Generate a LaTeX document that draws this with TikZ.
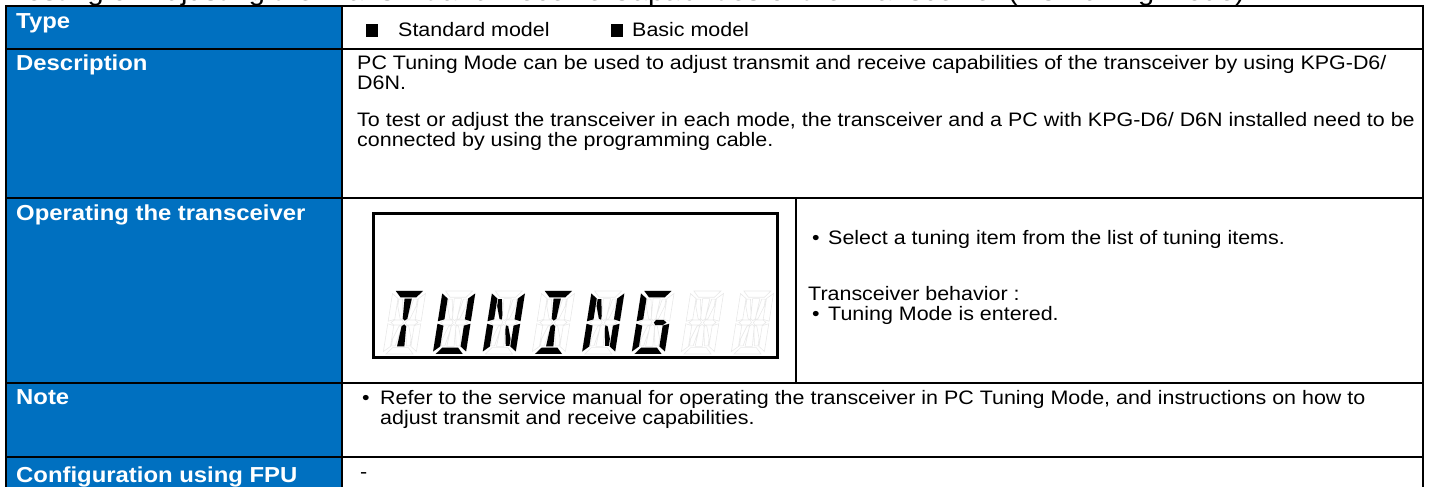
\documentclass[tikz,border=0pt]{standalone}
\usepackage{fontspec}
\setmainfont{Liberation Sans}
\newfontfamily\bodyf[FakeStretch=1.1]{Liberation Sans}
\definecolor{hdrblue}{HTML}{0070C0}
% 14-segment display segments in a 10 x 20 unit cell
\def\sgA{(0.9,20) -- (9.1,20) -- (7.4,18) -- (2.6,18) -- cycle}
\def\sgD{(0.9,0) -- (9.1,0) -- (7.4,2) -- (2.6,2) -- cycle}
\def\sgF{(0,19.2) -- (1.9,17.6) -- (1.9,11) -- (0,10.4) -- cycle}
\def\sgE{(0,9.6) -- (1.9,9) -- (1.9,2.4) -- (0,0.8) -- cycle}
\def\sgB{(10,19.2) -- (8.1,17.6) -- (8.1,11) -- (10,10.4) -- cycle}
\def\sgC{(10,9.6) -- (8.1,9) -- (8.1,2.4) -- (10,0.8) -- cycle}
\def\sgGa{(0.9,10) -- (1.9,10.8) -- (4.2,10.8) -- (4.7,10) -- (4.2,9.2) -- (1.9,9.2) -- cycle}
\def\sgGb{(5.3,10) -- (5.8,10.8) -- (8.1,10.8) -- (9.1,10) -- (8.1,9.2) -- (5.8,9.2) -- cycle}
\def\sgI{(3.9,17.6) -- (6.1,17.6) -- (5.7,11.2) -- (5,10.6) -- (4.3,11.2) -- cycle}
\def\sgL{(4.3,8.8) -- (5,9.4) -- (5.7,8.8) -- (6.1,2.4) -- (3.9,2.4) -- cycle}
\def\sgH{(2.2,17.4) -- (3.3,17.4) -- (4.2,12.3) -- (4.2,10.9) -- (3.5,11.2) -- (2.2,15.2) -- cycle}
\def\sgJ{(7.8,17.4) -- (6.7,17.4) -- (5.8,12.3) -- (5.8,10.9) -- (6.5,11.2) -- (7.8,15.2) -- cycle}
\def\sgK{(2.2,2.6) -- (3.3,2.6) -- (4.2,7.7) -- (4.2,9.1) -- (3.5,8.8) -- (2.2,4.8) -- cycle}
\def\sgM{(7.8,2.6) -- (6.7,2.6) -- (5.8,7.7) -- (5.8,9.1) -- (6.5,8.8) -- (7.8,4.8) -- cycle}
\newcommand\LcdChar[2]{%
  \begin{scope}[shift={(#1,133)},xscale=3.3,yscale=3.15,xslant=0.15]
    \draw[lcdoff] \sgA \sgB \sgC \sgD \sgE \sgF \sgGa \sgGb \sgH \sgI \sgJ \sgK \sgL \sgM;
    #2
  \end{scope}}
\begin{document}
\begin{tikzpicture}[x=1pt,y=1pt,
  lbl/.style={anchor=base west, inner sep=0pt, font=\bodyf\bfseries\fontsize{21.7}{24}\selectfont, text=white},
  txt/.style={anchor=base west, inner sep=0pt, font=\bodyf\fontsize{19.5}{22}\selectfont, text=black},
  ttl/.style={anchor=base east, inner sep=0pt, font=\bodyf\fontsize{26.4}{29}\selectfont, text=black},
  sqbox/.style={fill=black, inner sep=0pt, minimum width=12pt, minimum height=13pt, anchor=south west},
  rulew/.style={line width=2.5pt},
  lcdon/.style={fill=black},
  lcdoff/.style={draw=black!9, line width=0.6pt},
]
\clip (0,0) rectangle (1429,487);
\useasboundingbox (0,0) rectangle (1429,487);

% cut-off heading
\node[ttl] (title) at (1245,486) {Testing or Adjusting the Transmit and Receive Capabilities of the Transceiver (PC Tuning Mode)};

% table
\fill[hdrblue] (6,-5) rectangle (342,481);
\draw[rulew] (6,-5) -- (6,481) -- (1423,481) -- (1423,-5);
\draw[rulew] (342,-5) -- (342,481);
\foreach \yy in {438,289,104,30} \draw[rulew] (6,\yy) -- (1423,\yy);
\draw[line width=1.8pt] (796,289) -- (796,104);

% labels
\node[lbl] (ltype) at (16,458) {Type};
\node[lbl] (ldesc) at (16,416) {Description};
\node[lbl] (lop) at (16,266) {Operating the transceiver};
\node[lbl] (lnote) at (16,82) {Note};
\node[lbl] (lcfg) at (16,5) {Configuration using FPU};

% type row
\node[sqbox] (sq1) at (366,450) {};
\node[txt] (std) at (398,450) {Standard model};
\node[sqbox] (sq2) at (611,450) {};
\node[txt] (basic) at (632,450) {Basic model};

% description
\node[txt] (d1) at (357,417) {PC Tuning Mode can be used to adjust transmit and receive capabilities of the transceiver by using KPG-D6/};
\node[txt] (d2) at (357,397) {D6N.};
\node[txt] (d3) at (357,360) {To test or adjust the transceiver in each mode, the transceiver and a PC with KPG-D6/ D6N installed need to be};
\node[txt] (d4) at (357,340) {connected by using the programming cable.};

% LCD
\draw[line width=3pt] (373,129) rectangle (777,273);
\LcdChar{383}{\fill[lcdon] \sgA \sgI \sgL;}
\LcdChar{432.7}{\fill[lcdon] \sgF \sgE \sgD \sgC \sgB;}
\LcdChar{482.4}{\fill[lcdon] \sgF \sgE \sgH \sgM \sgC \sgB;}
\LcdChar{532}{\fill[lcdon] \sgA \sgI \sgL \sgD;}
\LcdChar{581.8}{\fill[lcdon] \sgF \sgE \sgH \sgM \sgC \sgB;}
\LcdChar{631.5}{\fill[lcdon] \sgA \sgF \sgE \sgD \sgC \sgGb;}
\LcdChar{681}{}
\LcdChar{731}{}

% operating text
\node[txt] (b1) at (812,242) {•};
\node[txt] (op1) at (828,242) {Select a tuning item from the list of tuning items.};
\node[txt] (op2) at (808,186) {Transceiver behavior :};
\node[txt] (b2) at (812,166) {•};
\node[txt] (op3) at (828,166) {Tuning Mode is entered.};

% note
\node[txt] (b3) at (362,82) {•};
\node[txt] (n1) at (380,82) {Refer to the service manual for operating the transceiver in PC Tuning Mode, and instructions on how to};
\node[txt] (n2) at (380,62) {adjust transmit and receive capabilities.};

% configuration
\node[txt] (c1) at (360,9) {-};
\end{tikzpicture}
\end{document}
